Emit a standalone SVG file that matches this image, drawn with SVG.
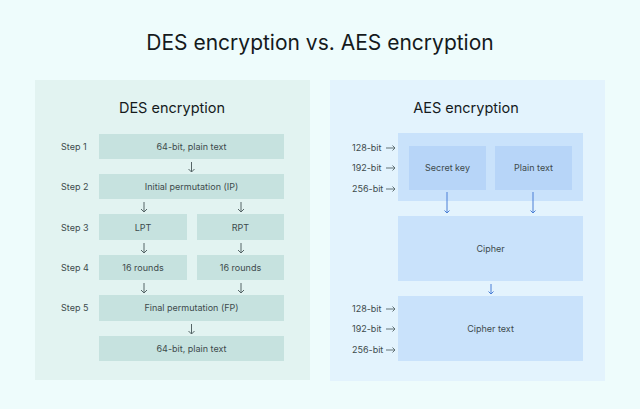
<svg xmlns="http://www.w3.org/2000/svg" width="640" height="409" viewBox="0 0 640 409">
<defs>
<style>
text{font-family:Inter,"Liberation Sans",sans-serif}
.title{font-size:21px;fill:#151a1c;text-anchor:middle}
.sub{font-size:14.5px;fill:#151a1c;text-anchor:middle}
.lbl{font-size:9px;fill:#3d4a4c;text-anchor:middle}
.side{font-size:9px;fill:#3d4a4c}
.des{fill:#c6e2df}
.aesO{fill:#c9e2fb}
.aesI{fill:#b7d5f8}
.ad{stroke:#556466;stroke-width:1;fill:none}
.ab{stroke:#4a7fd6;stroke-width:1;fill:none}
.ar{stroke:#556466;stroke-width:0.9;fill:none}
</style>
</defs>
<rect width="640" height="409" fill="#eefcfc"/>
<text class="title" x="320" y="50">DES encryption vs. AES encryption</text>
<rect x="35" y="80" width="275" height="300" fill="#e2f3f1"/>
<rect x="330" y="80" width="275" height="301" fill="#e3f3fd"/>
<text class="sub" x="172" y="113">DES encryption</text>
<text class="sub" x="466" y="113">AES encryption</text>

<g id="des-steps">
<text class="side" x="61" y="150">Step 1</text>
<text class="side" x="61" y="190">Step 2</text>
<text class="side" x="61" y="231">Step 3</text>
<text class="side" x="61" y="271">Step 4</text>
<text class="side" x="61" y="311">Step 5</text>
</g>
<g id="d1"><rect class="des" x="99" y="134" width="185" height="25"/><text class="lbl" x="191.5" y="150">64-bit, plain text</text></g>
<g id="d2"><rect class="des" x="99" y="174" width="185" height="25"/><text class="lbl" x="191.5" y="190">Initial permutation (IP)</text></g>
<g id="d3a"><rect class="des" x="99" y="214" width="88" height="26"/><text class="lbl" x="143" y="231">LPT</text></g>
<g id="d3b"><rect class="des" x="197" y="214" width="87" height="26"/><text class="lbl" x="240.5" y="231">RPT</text></g>
<g id="d4a"><rect class="des" x="99" y="255" width="88" height="25"/><text class="lbl" x="143" y="271">16 rounds</text></g>
<g id="d4b"><rect class="des" x="197" y="255" width="87" height="25"/><text class="lbl" x="240.5" y="271">16 rounds</text></g>
<g id="d5"><rect class="des" x="99" y="295" width="185" height="26"/><text class="lbl" x="191.5" y="311">Final permutation (FP)</text></g>
<g id="d6"><rect class="des" x="99" y="336" width="185" height="25"/><text class="lbl" x="191.5" y="352">64-bit, plain text</text></g>

<g id="a-top"><rect class="aesO" x="398" y="133" width="185" height="68"/></g>
<g id="a-key"><rect class="aesI" x="409" y="146" width="77" height="44"/><text class="lbl" x="447.5" y="171">Secret key</text></g>
<g id="a-plain"><rect class="aesI" x="495" y="146" width="77" height="44"/><text class="lbl" x="533.5" y="171">Plain text</text></g>
<g id="a-cipher"><rect class="aesO" x="398" y="216" width="185" height="65"/><text class="lbl" x="490.5" y="252">Cipher</text></g>
<g id="a-ctext"><rect class="aesO" x="398" y="296" width="185" height="65"/><text class="lbl" x="490.5" y="332">Cipher text</text></g>
<g id="a-bits">
<text class="side" x="352" y="151">128-bit</text>
<text class="side" x="352" y="171">192-bit</text>
<text class="side" x="352" y="192">256-bit</text>
<text class="side" x="352" y="312">128-bit</text>
<text class="side" x="352" y="332">192-bit</text>
<text class="side" x="352" y="353">256-bit</text>
</g>

<g id="connectors">
<path class="ad" d="M191.5 162v10M188.5 169l3 3 3-3"/>
<path class="ad" d="M144 202v10M141 209l3 3 3-3"/>
<path class="ad" d="M241 202v10M238 209l3 3 3-3"/>
<path class="ad" d="M144 283v10M141 290l3 3 3-3"/>
<path class="ad" d="M241 283v10M238 290l3 3 3-3"/>
<path class="ad" d="M144 243v10M141 250l3 3 3-3"/>
<path class="ad" d="M241 243v10M238 250l3 3 3-3"/>
<path class="ad" d="M191.5 324v10M188.5 331l3 3 3-3"/>
<path class="ab" d="M447 192v21M444.5 210.5l2.5 2.5 2.5-2.5"/>
<path class="ab" d="M533 192v21M530.5 210.5l2.5 2.5 2.5-2.5"/>
<path class="ab" d="M491 284v10M488.5 291.5l2.5 2.5 2.5-2.5"/>
<path class="ar" d="M386 148h9M392.5 145.5l2.5 2.5-2.5 2.5"/>
<path class="ar" d="M386 168h9M392.5 165.5l2.5 2.5-2.5 2.5"/>
<path class="ar" d="M386 189h9M392.5 186.5l2.5 2.5-2.5 2.5"/>
<path class="ar" d="M386 309h9M392.5 306.5l2.5 2.5-2.5 2.5"/>
<path class="ar" d="M386 329h9M392.5 326.5l2.5 2.5-2.5 2.5"/>
<path class="ar" d="M386 350h9M392.5 347.5l2.5 2.5-2.5 2.5"/>
</g>
</svg>
